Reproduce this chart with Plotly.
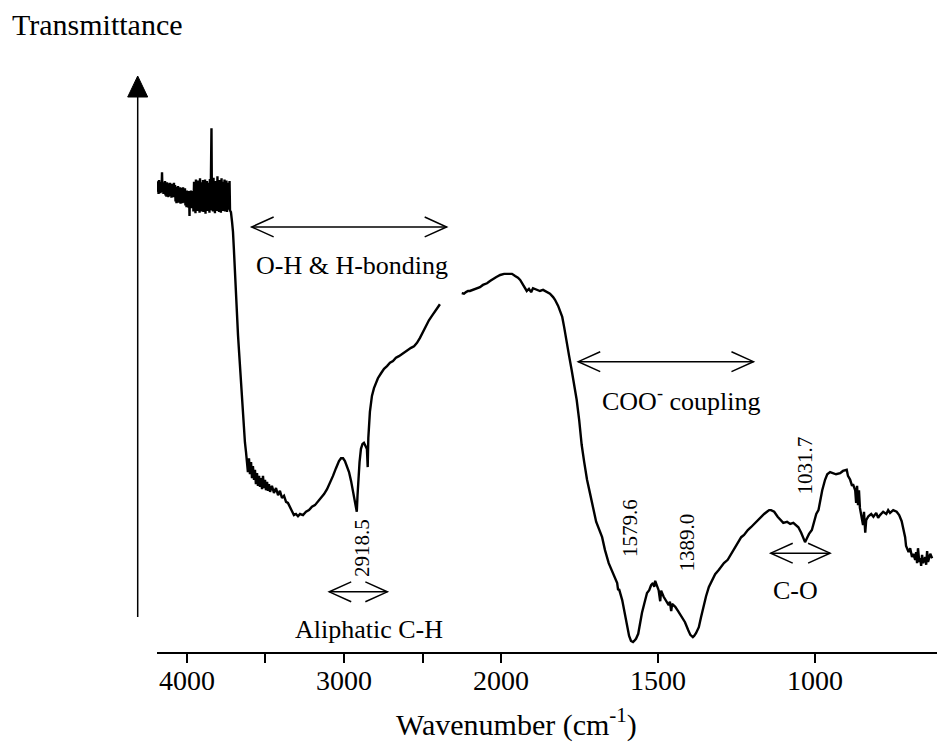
import plotly.graph_objects as go

# ---- IR spectrum (wavenumber in cm^-1, transmittance in arbitrary %T units) ----
# noisy high-wavenumber plateau: 4191 -> 3726 cm^-1
wn_plateau = [4191, 4188, 4185, 4181, 4178, 4175, 4172, 4169, 4166, 4162, 4159, 4156, 4153, 4150, 4146, 4143, 4140,
              4137, 4134, 4131, 4127, 4124, 4121, 4118, 4115, 4111, 4108, 4105, 4102, 4099, 4096, 4092, 4089, 4086, 4083, 4080, 4076,
              4073, 4070, 4067, 4064, 4061, 4057, 4054, 4051, 4048, 4045, 4041, 4038, 4035, 4032, 4029, 4025, 4022, 4019, 4016, 4013,
              4010, 4006, 4003, 4000, 3997, 3994, 3990, 3987, 3984, 3981, 3978, 3975, 3971, 3968, 3965, 3962,
              3959, 3955, 3952, 3949, 3946, 3943, 3940, 3936, 3933, 3930, 3927, 3924, 3920, 3917, 3914, 3911, 3908, 3905, 3901, 3898,
              3895, 3892, 3889, 3885, 3882, 3879, 3876, 3873, 3870, 3866, 3863, 3860, 3857, 3854, 3850,
              3847, 3844, 3841,
              3838, 3834, 3831, 3828, 3825, 3822, 3819, 3815, 3812, 3809, 3806, 3803, 3799, 3796, 3793, 3790, 3787, 3784,
              3780, 3777, 3774, 3771, 3768, 3764, 3761, 3758, 3755, 3752, 3749, 3745, 3742, 3739, 3736, 3733, 3729, 3726]
tr_plateau = [85.3, 83.4, 85.0, 83.0, 85.5, 83.6, 84.8, 83.1, 85.2, 83.5, 86.9, 83.3, 85.1, 83.0, 84.9, 83.4, 85.3,
              82.7, 84.9, 82.5, 85.1, 82.8, 84.6, 82.4, 84.9, 82.6, 85.0, 82.9, 84.5, 82.3, 84.8, 82.6, 84.7, 82.4, 85.0, 82.7, 84.6,
              81.6, 84.3, 81.3, 84.0, 81.7, 84.4, 81.4, 83.9, 81.5, 84.2, 81.2, 84.1, 81.6, 83.8, 81.3, 84.2, 81.5, 83.9, 81.4, 84.0,
              80.9, 83.4, 80.6, 83.6, 80.8, 83.2, 80.5, 83.5, 79.0, 83.3, 80.7, 83.6, 80.4, 83.1, 80.8, 83.5,
              79.8, 85.2, 80.3, 84.6, 79.5, 85.6, 80.1, 84.9, 79.9, 85.4, 80.6, 84.3, 79.6, 85.8, 80.2, 84.7, 79.8, 85.1, 80.5, 85.5,
              79.7, 84.8, 80.0, 85.6, 79.4, 84.5, 80.3, 85.3, 79.9, 85.0, 80.4, 84.2, 79.6, 85.7, 80.1,
              85.2, 94.9, 80.0,
              84.8, 79.8, 85.9, 80.2, 84.6, 79.5, 85.3, 80.6, 84.9, 79.9, 86.2, 80.3, 85.0, 79.7, 85.5, 80.1, 84.7, 79.6,
              85.8, 80.4, 84.4, 79.9, 85.2, 80.2, 85.6, 79.8, 84.9, 80.5, 85.4, 79.7, 85.0, 80.1, 84.6, 80.3, 85.3, 80.0]

# O-H / C-H region: 3720 -> 2389 cm^-1
wn_oh = [3720, 3713, 3707, 3701, 3694, 3688, 3682, 3675, 3669, 3662, 3656, 3650, 3643, 3637, 3631,
         3624, 3618, 3612, 3605, 3599, 3592, 3586, 3580, 3573, 3567, 3561, 3554, 3548, 3541, 3535,
         3529, 3522, 3516, 3510, 3503, 3497, 3490, 3484, 3478, 3471, 3459, 3446, 3433, 3420, 3408,
         3395, 3382, 3369, 3357, 3344, 3331, 3319, 3306, 3293, 3280, 3261, 3242, 3223, 3204, 3185,
         3166, 3147, 3127, 3108, 3089, 3070, 3051, 3032, 3019, 3006, 2994, 2981, 2968, 2955, 2943,
         2930, 2918.5, 2914, 2908, 2901, 2892, 2882, 2873, 2860, 2854, 2849, 2845, 2835, 2822, 2809,
         2796, 2784, 2764, 2745, 2726, 2707, 2688, 2669, 2650, 2631, 2612, 2592, 2573, 2554, 2535,
         2516, 2497, 2478, 2459, 2440, 2421, 2401, 2389]
tr_oh = [79.7, 77.9, 76.1, 72.8, 68.3, 63.8, 60.5, 57.4, 54.7, 51.6, 48.4, 44.7, 42.0, 39.9, 38.0,
         36.2, 34.4, 32.6, 35.1, 32.2, 34.4, 31.5, 33.7, 31.2, 33.0, 30.4, 32.4, 30.1, 31.9, 29.9,
         31.5, 29.5, 31.9, 29.7, 31.2, 29.3, 30.8, 29.2, 30.4, 29.0, 30.1, 28.8, 29.7, 28.4, 29.2,
         27.9, 28.3, 27.2, 27.0, 26.1, 25.5, 24.8, 25.0, 24.6, 25.0, 24.8, 25.4, 25.7, 26.3, 26.6,
         27.2, 27.9, 28.6, 29.5, 30.6, 31.9, 33.3, 34.6, 35.1, 35.1, 34.6, 33.7, 32.6, 31.0, 29.3,
         27.2, 25.4, 28.3, 31.5, 34.4, 36.8, 37.7, 37.9, 37.3, 36.8, 33.5, 38.8, 43.5, 46.4, 47.8,
         48.7, 49.6, 50.5, 51.3, 51.8, 52.4, 52.7, 53.3, 53.6, 54.0, 54.3, 54.7, 55.1, 55.4, 56.0,
         56.9, 58.0, 59.1, 60.1, 60.9, 61.8, 62.5, 63.0]

# fingerprint side: 2250 -> 627 cm^-1 (CO2 region left out)
wn_low = [2250, 2236, 2223, 2210, 2198, 2178, 2153, 2134, 2115, 2089, 2070, 2051, 2032, 2005, 1990,
          1977, 1965, 1955, 1946, 1939, 1930, 1918, 1911, 1904, 1898, 1886, 1876, 1866, 1854, 1844,
          1834, 1828, 1818, 1812, 1805, 1799, 1791, 1783, 1775, 1767, 1759, 1751, 1743, 1735, 1726,
          1716, 1707, 1697, 1678, 1669, 1657, 1646, 1636, 1630, 1627, 1624, 1614, 1608, 1598, 1592,
          1586, 1579.6, 1576, 1570, 1563, 1557, 1551, 1544, 1535, 1528, 1522, 1516, 1512, 1509, 1503,
          1498, 1493, 1490, 1482, 1474, 1466, 1462, 1458, 1455, 1445, 1436, 1423, 1414, 1404, 1397,
          1389.0, 1385, 1379, 1370, 1363, 1356, 1347, 1338, 1328, 1318, 1306, 1296, 1290, 1278, 1267,
          1258, 1246, 1235, 1226, 1214, 1204, 1194, 1182, 1172, 1162, 1153, 1146, 1140, 1130, 1119,
          1108, 1101, 1089, 1079, 1069, 1060, 1053, 1044, 1038, 1031.7, 1025, 1019, 1010, 1003, 996,
          989, 984, 977, 968, 961, 952, 942, 933, 920, 911, 899, 895, 888, 882, 879,
          872, 869, 866, 863, 860, 857, 851, 847, 844, 840, 837, 830, 821, 814, 805,
          799, 793, 783, 773, 767, 761, 751, 740, 732, 724, 719, 713, 710, 702, 697,
          691, 687, 681, 678, 675, 672, 668, 665, 662, 659, 656, 649, 646, 643, 640,
          633, 627]
tr_low = [65.0, 64.9, 65.2, 65.4, 65.4, 65.6, 65.9, 66.1, 66.5, 66.8, 67.2, 67.6, 67.9, 68.3, 68.5,
          68.5, 68.5, 68.1, 67.8, 67.4, 66.5, 65.4, 65.8, 65.2, 65.9, 65.6, 65.4, 65.6, 65.2, 64.9,
          64.3, 63.8, 62.7, 61.8, 60.7, 58.9, 56.0, 53.6, 51.1, 48.7, 45.7, 42.0, 37.5, 34.4, 31.2,
          28.6, 26.1, 23.6, 20.8, 18.5, 16.1, 14.5, 13.0, 12.5, 11.2, 11.4, 9.4, 7.6, 4.5, 2.9,
          2.0, 1.8, 2.0, 2.4, 3.3, 5.4, 7.1, 8.7, 10.7, 11.2, 12.1, 12.5, 11.8, 12.9, 12.0,
          11.2, 9.2, 11.1, 10.0, 9.2, 8.5, 9.1, 7.4, 8.7, 8.2, 7.4, 6.3, 5.4, 4.0, 3.1,
          2.7, 2.9, 3.4, 4.5, 6.3, 8.2, 10.1, 11.8, 13.0, 14.1, 14.9, 15.6, 16.1, 16.7, 17.8,
          18.7, 19.7, 20.8, 21.2, 22.1, 22.6, 23.2, 23.9, 24.5, 25.0, 25.4, 25.7, 25.7, 25.4, 24.5,
          23.7, 23.4, 23.6, 23.2, 23.4, 23.0, 22.6, 21.6, 20.7, 19.9, 20.7, 21.4, 22.1, 23.7, 25.0,
          25.7, 27.5, 29.3, 31.2, 32.2, 32.6, 32.4, 32.2, 32.4, 32.8, 33.0, 31.9, 31.2, 30.1, 30.4,
          29.3, 27.0, 30.1, 26.6, 29.3, 26.1, 24.5, 23.0, 25.4, 21.6, 23.9, 24.6, 25.0, 24.5, 25.2,
          24.3, 24.8, 25.4, 25.0, 25.7, 25.2, 25.7, 25.4, 24.8, 23.7, 22.5, 20.8, 19.2, 18.1, 18.8,
          17.2, 17.8, 16.7, 18.1, 16.1, 18.8, 16.3, 17.0, 15.6, 17.6, 16.1, 17.2, 15.8, 18.3, 16.3,
          17.8, 17.0]

# axis ticks
major_ticks = [4000, 3000, 2000, 1500, 1000]
minor_ticks = [3500, 2500]

# labelled band positions (cm^-1)
peak_labels = [2918.5, 1579.6, 1389.0, 1031.7]

# band assignments: (text, arrow start, arrow end)
bands = [("O-H &amp; H-bonding", 3588, 2346),
         ("Aliphatic C-H", 3094, 2724),
         ("COO<sup>-</sup> coupling", 1754, 1196),
         ("C-O", 1141, 952)]


def axis_pos(w):
    """Wavenumber -> axis coordinate; the scale is expanded x2 below 2000 cm^-1."""
    return 4000 - w if w >= 2000 else 2000 + 2 * (2000 - w)


FONT = "Liberation Serif, Times New Roman, serif"
W, H = 937, 747
ML, MR, MT, MB = 157, 0, 100, 95
PW, PH = W - ML - MR, H - MT - MB


def px(x):
    return (x - ML) / PW


def py(y):
    return (H - MB - y) / PH


wn_first = wn_plateau + wn_oh
tr_first = tr_plateau + tr_oh
x_all = [axis_pos(w) for w in wn_first] + [None] + [axis_pos(w) for w in wn_low]
y_all = tr_first + [None] + tr_low

fig = go.Figure()
fig.add_trace(go.Scatter(x=x_all, y=y_all, mode="lines",
                         line=dict(color="black", width=2.4), connectgaps=False,
                         hoverinfo="skip", showlegend=False))

shapes = []
annotations = []

# double-headed arrows with open heads, plus band text
arrow_y = [77.0, 10.9, 52.6, 17.9]
text_pos = [(2946, 70.1), (2841, 4.0), (1427, 45.8), (1062, 11.1)]
DX, DY = 140, 1.8
for (label, w0, w1), ty, (tw, tt) in zip(bands, arrow_y, text_pos):
    x0, x1 = axis_pos(w0), axis_pos(w1)
    ln = dict(color="black", width=1.5)
    shapes.append(dict(type="line", xref="x", yref="y", x0=x0, x1=x1, y0=ty, y1=ty, line=ln))
    shapes.append(dict(type="path", xref="x", yref="y", line=ln,
                       path=f"M {x0 + DX},{ty + DY} L {x0},{ty} L {x0 + DX},{ty - DY}"))
    shapes.append(dict(type="path", xref="x", yref="y", line=ln,
                       path=f"M {x1 - DX},{ty + DY} L {x1},{ty} L {x1 - DX},{ty - DY}"))
    annotations.append(dict(x=axis_pos(tw), y=tt, xref="x", yref="y", text=label,
                            showarrow=False, font=dict(family=FONT, size=26, color="black"),
                            xanchor="center", yanchor="middle"))

# rotated peak labels
peak_text_pos = [(2881, 18.8), (1587, 22.4), (1408, 19.8), (1032, 33.8)]
for val, (tw, tt) in zip(peak_labels, peak_text_pos):
    annotations.append(dict(x=axis_pos(tw), y=tt, xref="x", yref="y", text=f"{val:.1f}",
                            textangle=-90, showarrow=False,
                            font=dict(family=FONT, size=21, color="black"),
                            xanchor="center", yanchor="middle"))

# y-axis: plain vertical line ending in a filled arrowhead
yx = px(137.7)
shapes.append(dict(type="line", xref="paper", yref="paper", x0=yx, x1=yx,
                   y0=py(617), y1=py(96), line=dict(color="black", width=1.5)))
shapes.append(dict(type="path", xref="paper", yref="paper", fillcolor="black",
                   line=dict(color="black", width=1),
                   path=f"M {px(127.7)},{py(97)} L {yx},{py(76)} L {px(147.7)},{py(97)} Z"))

# axis titles
annotations.append(dict(x=px(10), y=py(24), xref="paper", yref="paper", text="Transmittance",
                        showarrow=False, xanchor="left", yanchor="middle",
                        font=dict(family=FONT, size=30, color="black")))
annotations.append(dict(x=px(516), y=py(722), xref="paper", yref="paper",
                        text="Wavenumber (cm<sup>-1</sup>)", showarrow=False,
                        xanchor="center", yanchor="middle",
                        font=dict(family=FONT, size=30, color="black")))

fig.update_layout(
    width=W, height=H,
    margin=dict(l=ML, r=MR, t=MT, b=MB),
    paper_bgcolor="white", plot_bgcolor="white",
    shapes=shapes, annotations=annotations,
    xaxis=dict(range=[-191, 4777], showgrid=False, zeroline=False,
               showline=True, linecolor="black", linewidth=1.5,
               ticks="outside", ticklen=9, tickwidth=1.5, tickcolor="black",
               tickmode="array",
               tickvals=[axis_pos(w) for w in major_ticks],
               ticktext=[str(w) for w in major_ticks],
               ticklabelstandoff=-6,
               tickfont=dict(family=FONT, size=28, color="black"),
               minor=dict(tickmode="array", tickvals=[axis_pos(w) for w in minor_ticks],
                          ticks="outside", ticklen=9, tickwidth=1.5, tickcolor="black",
                          showgrid=False)),
    yaxis=dict(range=[0, 100], visible=False),
)

fig.write_html("out.html")
